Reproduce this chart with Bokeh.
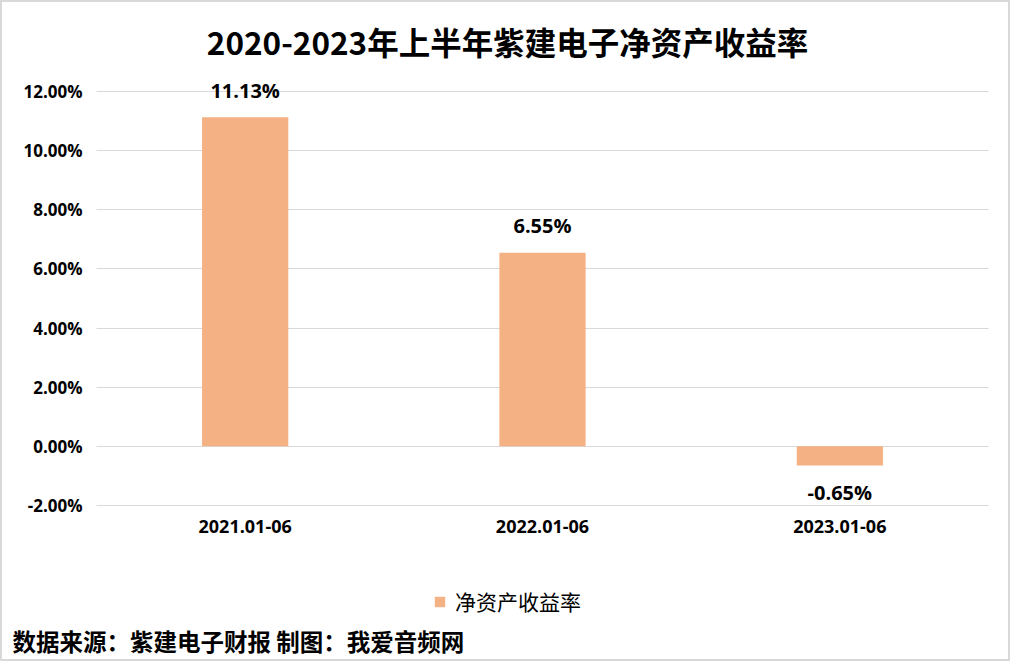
from bokeh.plotting import figure
from bokeh.models import (ColumnDataSource, LabelSet, Label, Legend, LegendItem,
                          FixedTicker, Range1d)
from bokeh.core.properties import value
from bokeh.embed import file_html
from bokeh.resources import INLINE

# ---- data ----
categories = ["2021.01-06", "2022.01-06", "2023.01-06"]
roe_values = [11.13, 6.55, -0.65]
roe_labels = ["11.13%", "6.55%", "-0.65%"]
y_ticks = [-2, 0, 2, 4, 6, 8, 10, 12]
y_tick_labels = ["-2.00%", "0.00%", "2.00%", "4.00%", "6.00%", "8.00%", "10.00%", "12.00%"]
series_name = "净资产收益率"
title_text = "2020-2023年上半年紫建电子净资产收益率"
footer_text = "数据来源：紫建电子财报 制图：我爱音频网"

BAR = "#F4B183"
CJK = "Noto Sans CJK SC"

# category slots 0..3 (numeric), bars centred in each slot
xpos = [i + 0.5 for i in range(len(categories))]

src = ColumnDataSource(dict(
    x=xpos, val=roe_values, lab=roe_labels,
    off=[27 if v >= 0 else -27 for v in roe_values],
))

W, H = 1010, 661                 # canvas (plus 2px CSS border each side)
PX_X = 892 / 3.0                 # pixels per category slot
PX_Y = 414 / 14.0                # pixels per percentage point
PLOT_LEFT, PLOT_TOP = 94, 89     # canvas px of slot 0 / 12% line
x_range = Range1d(-PLOT_LEFT / PX_X, (W - PLOT_LEFT) / PX_X)
y_range = Range1d(12 - (H - PLOT_TOP) / PX_Y, 12 + PLOT_TOP / PX_Y)

p = figure(x_range=x_range, y_range=y_range, width=W, height=H,
           output_backend="svg", toolbar_location=None, title_location=None,
           min_border_left=0, min_border_right=0, min_border_top=0, min_border_bottom=0)
p.styles = {"border": "2px solid #d9d9d9"}
p.outline_line_color = None
p.background_fill_color = "white"
p.border_fill_color = "white"

r = p.vbar(x="x", top="val", bottom=0, width=0.29, source=src, color=BAR, line_color=None)

p.xgrid.grid_line_color = None
p.ygrid.ticker = FixedTicker(ticks=y_ticks)
try:
    p.ygrid.cross_bounds = (0, len(categories))
    p.ygrid.grid_line_color = "#D9D9D9"
except AttributeError:
    p.ygrid.grid_line_color = None
    p.segment(x0=[0] * len(y_ticks), x1=[len(categories)] * len(y_ticks),
              y0=y_ticks, y1=y_ticks, line_color="#D9D9D9", line_width=1, level="underlay")

p.xaxis.ticker = FixedTicker(ticks=xpos)
p.xaxis.major_label_overrides = {t: c for t, c in zip(xpos, categories)}
p.xaxis.fixed_location = -2
p.yaxis.ticker = FixedTicker(ticks=y_ticks)
p.yaxis.major_label_overrides = {t: l for t, l in zip(y_ticks, y_tick_labels)}
p.yaxis.fixed_location = 0
for ax in (p.xaxis[0], p.yaxis[0]):
    ax.axis_line_color = None
    ax.major_tick_line_color = None
    ax.minor_tick_line_color = None
    ax.major_tick_in = 0
    ax.major_tick_out = 0
    ax.minor_tick_in = 0
    ax.minor_tick_out = 0
    ax.major_label_text_font = "Open Sans"
    ax.major_label_text_font_style = "bold"
    ax.major_label_text_color = "black"
    ax.major_label_standoff = 14
p.yaxis.major_label_text_font_size = "17px"
p.xaxis.major_label_text_font_size = "18px"

labels = LabelSet(x="x", y="val", text="lab", y_offset="off", source=src,
                  text_align="center", text_baseline="middle",
                  text_font=value("Open Sans"), text_font_style="bold", text_font_size="20px",
                  text_color="black")
p.add_layout(labels)

# title and footer (page px -> data coords)
p.add_layout(Label(x=(507 - 96) / PX_X, y=12 + (91 - 40) / PX_Y, text=title_text,
                   text_align="center", text_baseline="middle", text_font=CJK,
                   text_font_style="bold", text_font_size="31.5px", text_color="black"))
p.add_layout(Label(x=(12 - 96) / PX_X, y=-2 - (640 - 505) / PX_Y, text=footer_text,
                   text_align="left", text_baseline="middle", text_font=CJK,
                   text_font_style="bold", text_font_size="23.5px", text_color="black"))

legend = Legend(items=[LegendItem(label=series_name, renderers=[r])],
                location=(431, 47), orientation="horizontal", margin=0,
                glyph_width=13, glyph_height=13, padding=6, spacing=0,
                label_text_font=CJK, label_text_font_size="21px", label_standoff=9,
                label_text_color="black",
                border_line_color=None, background_fill_alpha=0)
p.add_layout(legend, "center")

open("out.html", "w").write(file_html(p, INLINE))
